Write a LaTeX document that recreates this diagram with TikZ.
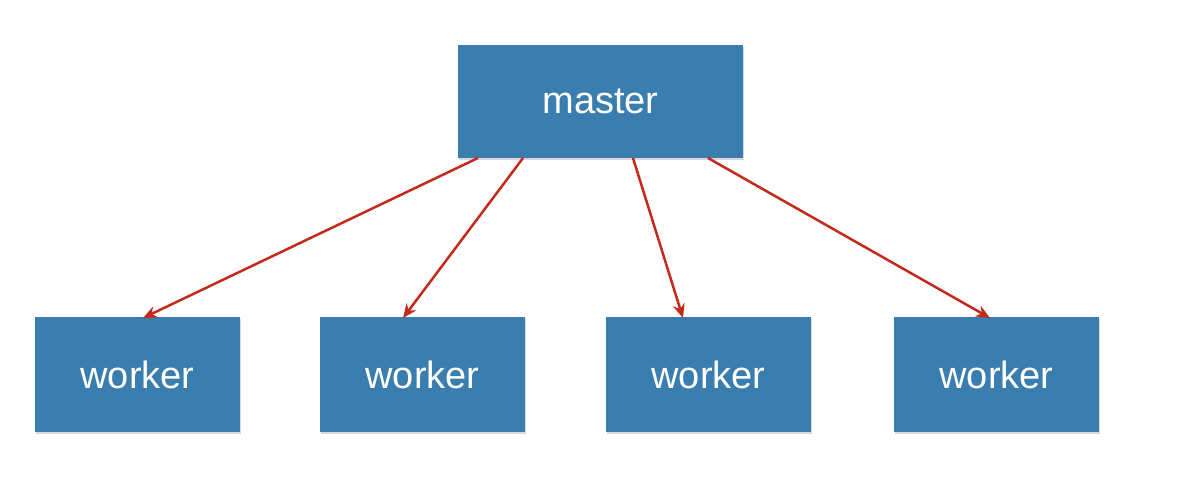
\documentclass[tikz,border=0pt]{standalone}
\usepackage{fontspec}
\setmainfont{Liberation Sans}
\usetikzlibrary{arrows.meta,shadows}
\definecolor{boxblue}{HTML}{3A7DAF}
\definecolor{arr}{HTML}{C42A1C}
\begin{document}
\begin{tikzpicture}[x=1pt,y=-1pt,
 box/.style={draw=none,fill=boxblue,text=white,font=\fontsize{38}{40}\selectfont,
   drop shadow={shadow xshift=1pt,shadow yshift=-2pt,opacity=0.3}},
 link/.style={draw=arr,line width=2.5pt,-{Stealth[length=14pt,width=12pt]}}]
\useasboundingbox (0,0) rectangle (1203,500);
\node[box,minimum width=285pt,minimum height=113pt] (m) at (600.5,101.5) {master};
\foreach \i/\x in {1/137.5,2/422.5,3/708.5,4/996.5}
  \node[box,minimum width=205pt,minimum height=115pt] (w\i) at (\x,374.5) {worker};
\coordinate (s1) at (478,158); \coordinate (s2) at (523,158);
\coordinate (s3) at (633,158); \coordinate (s4) at (708,158);
\coordinate (e1) at (143,318); \coordinate (e2) at (403,318);
\coordinate (e3) at (683,318); \coordinate (e4) at (990,318);
\foreach \i in {1,...,4} \draw[link] (s\i) -- (e\i);
\end{tikzpicture}
\end{document}
